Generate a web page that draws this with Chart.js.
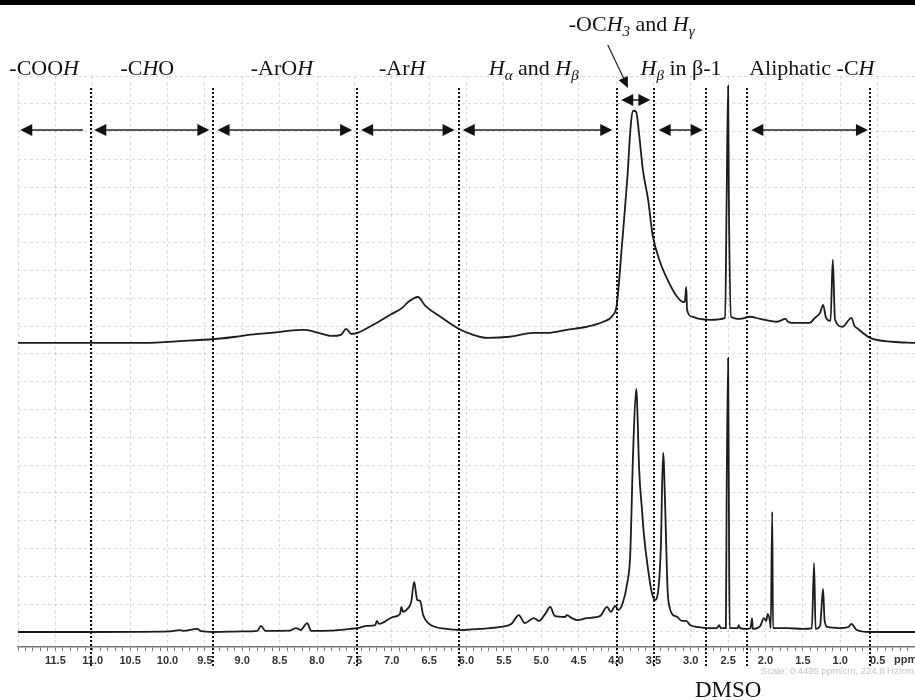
<!DOCTYPE html>
<html>
<head>
<meta charset="utf-8">
<script src="https://cdn.jsdelivr.net/npm/chart.js@4.4.0/dist/chart.umd.min.js"></script>
<style>
  body { margin: 0; background: #fff; }
</style>
</head>
<body>
<canvas id="nmr" width="915" height="700"></canvas>
<script>
// lower spectrum: chemical shift (ppm) and intensity
var lowerPpm = [12.0, 11.03, 9.96, 9.83, 9.79, 9.60, 9.56, 9.39, 8.99, 8.80, 8.75, 8.69, 8.36, 8.28, 8.22, 8.13, 8.08, 7.82,
  7.56, 7.46, 7.33, 7.22, 7.20, 7.17, 6.98, 6.89, 6.87, 6.85, 6.79, 6.74, 6.70, 6.67, 6.66, 6.62, 6.58, 6.50, 6.27, 6.07,
  5.82, 5.55, 5.40, 5.30, 5.22, 5.10, 5.03, 4.94, 4.88, 4.82, 4.68, 4.66, 4.59, 4.52, 4.39, 4.21, 4.12, 4.07, 4.01, 3.97,
  3.91, 3.85, 3.81, 3.77, 3.73, 3.72, 3.69, 3.65, 3.63, 3.57, 3.52, 3.48, 3.44, 3.40, 3.37, 3.36, 3.33, 3.31, 3.28, 3.25,
  3.18, 3.12, 3.06, 3.01, 2.92, 2.78, 2.65, 2.62, 2.60, 2.53, 2.52, 2.50, 2.49, 2.48, 2.37, 2.36, 2.34, 2.25, 2.20, 2.18,
  2.17, 2.07, 2.02, 1.99, 1.97, 1.94, 1.93, 1.91, 1.90, 1.71, 1.50, 1.38, 1.35, 1.33, 1.27, 1.23, 1.21, 1.17, 1.01, 0.89,
  0.85, 0.78, 0.60, 0.0];
var lowerInt = [0, 0, 0.02, 0.07, 0.04, 0.11, 0.04, 0, 0.02, 0.04, 0.22, 0.04, 0.05, 0.14, 0.07, 0.32, 0.04, 0.05,
  0.11, 0.14, 0.22, 0.25, 0.40, 0.29, 0.54, 0.65, 0.90, 0.72, 0.83, 1.08, 1.80, 1.29, 1.15, 1.12, 0.61, 0.29, 0.11, 0.07,
  0.11, 0.18, 0.29, 0.61, 0.32, 0.50, 0.40, 0.68, 0.90, 0.58, 0.54, 0.61, 0.50, 0.43, 0.50, 0.58, 0.90, 0.72, 0.94, 0.79,
  1.04, 1.76, 2.77, 6.55, 8.74, 8.42, 5.83, 4.32, 3.60, 2.23, 1.40, 1.15, 1.40, 3.06, 6.44, 6.12, 3.31, 1.51, 0.86, 0.65,
  0.54, 0.40, 0.40, 0.25, 0.18, 0.14, 0.14, 0.25, 0.14, 0.14, 4.75, 9.86, 4.75, 0.14, 0.14, 0.25, 0.14, 0.11, 0.14, 0.50,
  0.11, 0.22, 0.50, 0.40, 0.65, 0.36, 0.14, 4.32, 0.14, 0.14, 0.11, 0.14, 2.48, 0.11, 0.22, 1.55, 0.43, 0.18, 0.14, 0.18,
  0.29, 0.07, 0, 0];

// upper spectrum: chemical shift (ppm) and intensity above its own baseline
var upperPpm = [12.0, 11.05, 10.32, 9.78, 9.37, 9.08, 8.92, 8.61, 8.22, 8.16, 7.98, 7.80, 7.68, 7.61, 7.54, 7.46, 7.25,
  7.02, 6.86, 6.78, 6.65, 6.55, 6.35, 6.10, 5.91, 5.72, 5.42, 5.11, 4.92, 4.66, 4.39, 4.17, 4.05, 3.99, 3.92, 3.85, 3.80,
  3.77, 3.73, 3.69, 3.64, 3.57, 3.51, 3.41, 3.31, 3.18, 3.10, 3.08, 3.06, 3.05, 2.98, 2.88, 2.74, 2.54, 2.52, 2.50, 2.49,
  2.46, 2.34, 2.21, 2.07, 1.85, 1.73, 1.70, 1.63, 1.41, 1.34, 1.27, 1.23, 1.19, 1.13, 1.10, 1.07, 0.97, 0.85, 0.81, 0.78,
  0.60, 0.30, 0.0];
var upperInt = [0, 0, 0, 0.07, 0.14, 0.22, 0.29, 0.36, 0.47, 0.47, 0.36, 0.25, 0.29, 0.50, 0.32, 0.36, 0.65,
  1.01, 1.26, 1.47, 1.65, 1.33, 0.94, 0.50, 0.29, 0.18, 0.22, 0.36, 0.36, 0.47, 0.58, 0.76, 0.97, 1.37, 3.53, 5.86, 7.91,
  8.35, 8.31, 7.48, 6.22, 5.14, 3.88, 2.91, 2.27, 1.65, 1.47, 1.47, 2.01, 1.19, 0.94, 0.86, 0.83, 0.90, 5.14, 9.24, 5.14,
  0.94, 0.86, 0.94, 0.86, 0.76, 0.86, 0.76, 0.72, 0.72, 0.90, 1.08, 1.37, 0.90, 0.79, 2.99, 0.83, 0.58, 0.90, 0.61, 0.54,
  0.18, 0.04, 0];
var upperOffset = 10.4;

// region dividers (ppm) and the assignment labels between them
var regionLines = [11.03, 9.39, 7.47, 6.1, 3.99, 3.49, 2.79, 2.25, 0.6];
var regionNames = [
  [['-COO', 'r'], ['H', 'i']],
  [['-C', 'r'], ['H', 'i'], ['O', 'r']],
  [['-ArO', 'r'], ['H', 'i']],
  [['-Ar', 'r'], ['H', 'i']],
  [['H', 'i'], ['α', 's'], [' and ', 'r'], ['H', 'i'], ['β', 's']],
  [['-OC', 'r'], ['H', 'i'], ['3', 's'], [' and ', 'r'], ['H', 'i'], ['γ', 's']],
  [['H', 'i'], ['β', 's'], [' in β-1', 'r']],
  [['Aliphatic -C', 'r'], ['H', 'i']]
];
var regionSpans = [[11.97, 11.13], [10.98, 9.44], [9.33, 7.53], [7.41, 6.16], [6.05, 4.05], [3.93, 3.54], [3.43, 2.84], [2.19, 0.63]];

function toPoints(xs, ys, off) {
  return xs.map(function (x, i) { return { x: x, y: ys[i] + off }; });
}

var serif = '"Liberation Serif", "DejaVu Serif", serif';

function drawRich(ctx, segs, cx, base, size) {
  function font(st) {
    if (st === 'r') return size + 'px ' + serif;
    if (st === 'i') return 'italic ' + size + 'px ' + serif;
    return 'italic ' + Math.round(size * 0.7) + 'px ' + serif;
  }
  var w = 0;
  segs.forEach(function (s) { ctx.font = font(s[1]); w += ctx.measureText(s[0]).width; });
  var x = cx - w / 2;
  segs.forEach(function (s) {
    ctx.font = font(s[1]);
    ctx.fillText(s[0], x, s[1] === 's' ? base + size * 0.22 : base);
    x += ctx.measureText(s[0]).width;
  });
}

function head(ctx, x, y, dir, len, half) {
  ctx.beginPath();
  ctx.moveTo(x, y);
  ctx.lineTo(x - dir * len, y - half);
  ctx.lineTo(x - dir * len, y + half);
  ctx.closePath();
  ctx.fill();
}

var annotations = {
  id: 'annotations',
  afterDatasetsDraw: function (chart) {
    var ctx = chart.ctx, xs = chart.scales.x;
    ctx.save();
    ctx.strokeStyle = '#111';
    ctx.lineWidth = 2;
    ctx.setLineDash([2, 2]);
    regionLines.forEach(function (p) {
      var x = Math.round(xs.getPixelForValue(p));
      ctx.beginPath();
      ctx.moveTo(x, 88);
      ctx.lineTo(x, 667);
      ctx.stroke();
    });
    ctx.restore();
  },
  afterDraw: function (chart) {
    var ctx = chart.ctx, xs = chart.scales.x;
    ctx.save();
    ctx.fillStyle = '#000';
    ctx.fillRect(0, 0, 915, 5);

    // labels over each region
    var centers = [11.65, 10.27, 8.47, 6.86, 5.10, 3.79, 3.13, 1.38];
    var bases = [75, 75, 75, 75, 75, 31, 75, 75];
    ctx.fillStyle = '#111';
    ctx.textBaseline = 'alphabetic';
    ctx.textAlign = 'left';
    regionNames.forEach(function (segs, i) {
      drawRich(ctx, segs, xs.getPixelForValue(centers[i]), bases[i], 22);
    });

    // range arrows
    ctx.strokeStyle = '#222';
    ctx.fillStyle = '#111';
    ctx.lineWidth = 1.5;
    regionSpans.forEach(function (sp, i) {
      var y = i === 5 ? 100 : 130;
      var a = xs.getPixelForValue(sp[0]), b = xs.getPixelForValue(sp[1]);
      ctx.beginPath();
      ctx.moveTo(a + 8, y);
      ctx.lineTo(b - (i === 0 ? 0 : 8), y);
      ctx.stroke();
      head(ctx, a, y, -1, 12, 6);
      if (i !== 0) head(ctx, b, y, 1, 12, 6);
    });

    // pointer from the methoxyl label to its arrow
    var px0 = xs.getPixelForValue(4.11), px1 = xs.getPixelForValue(3.84);
    ctx.lineWidth = 1.2;
    ctx.beginPath();
    ctx.moveTo(px0, 45);
    ctx.lineTo(px1 - 3, 81);
    ctx.stroke();
    var ang = Math.atan2(88 - 45, px1 - px0);
    ctx.save();
    ctx.translate(px1, 88);
    ctx.rotate(ang);
    head(ctx, 0, 0, 1, 11, 5);
    ctx.restore();

    // axis unit, solvent and scale notes
    ctx.fillStyle = '#333';
    ctx.font = 'bold 11px "Liberation Sans", Arial, sans-serif';
    ctx.textBaseline = 'top';
    ctx.fillText('ppm', 894, 654);
    ctx.fillStyle = '#c4c4c4';
    ctx.font = '9.5px "Liberation Sans", Arial, sans-serif';
    ctx.textAlign = 'right';
    ctx.fillText('Scale: 0.4495 ppm/cm, 224.8 Hz/cm', 914, 667);
    ctx.fillStyle = '#111';
    ctx.textAlign = 'center';
    ctx.textBaseline = 'alphabetic';
    ctx.font = '23px ' + serif;
    ctx.fillText('DMSO', xs.getPixelForValue(2.5), 697);
    ctx.restore();
  }
};

var faint = 'rgba(0,0,0,0.14)';

new Chart(document.getElementById('nmr'), {
  type: 'line',
  data: {
    datasets: [{
      label: 'lower',
      data: toPoints(lowerPpm, lowerInt, 0),
      borderColor: '#1c1c1c',
      borderWidth: 1.8,
      pointRadius: 0,
      cubicInterpolationMode: 'monotone'
    }, {
      label: 'upper',
      data: toPoints(upperPpm, upperInt, upperOffset),
      borderColor: '#1c1c1c',
      borderWidth: 1.8,
      pointRadius: 0,
      cubicInterpolationMode: 'monotone'
    }]
  },
  options: {
    responsive: false,
    animation: false,
    devicePixelRatio: 1,
    layout: { padding: { left: 18, top: 76, right: 0, bottom: 0 } },
    plugins: { legend: { display: false }, tooltip: { enabled: false } },
    scales: {
      x: {
        type: 'linear',
        reverse: true,
        min: 0,
        max: 12,
        afterBuildTicks: function (s) {
          var t = [];
          for (var i = 0; i <= 120; i++) t.push({ value: i / 10 });
          s.ticks = t;
        },
        afterFit: function (s) { s.height = 53; },
        ticks: {
          autoSkip: false,
          maxRotation: 0,
          padding: 3,
          color: '#333',
          font: { family: '"Liberation Sans", Arial, sans-serif', size: 11, weight: 'bold' },
          callback: function (v) {
            var r = Math.round(v * 10);
            return (r % 5 === 0 && r >= 5 && r <= 115) ? (r / 10).toFixed(1) : '';
          }
        },
        grid: {
          color: function (c) {
            var r = Math.round(c.tick.value * 10);
            return r % 5 === 0 ? faint : 'rgba(0,0,0,0)';
          },
          tickColor: '#777',
          tickLength: 4,
          tickWidth: 1
        },
        border: { display: true, color: '#777', width: 1.5, dash: [3, 3] }
      },
      y: {
        min: -0.54,
        max: 20,
        afterBuildTicks: function (s) {
          var t = [];
          for (var i = 0; i <= 20; i++) t.push({ value: i });
          s.ticks = t;
        },
        afterFit: function (s) { s.width = 0; },
        ticks: { display: false },
        grid: { color: faint, drawTicks: false },
        border: { display: false, dash: [3, 3] }
      }
    }
  },
  plugins: [annotations]
});
</script>
</body>
</html>
